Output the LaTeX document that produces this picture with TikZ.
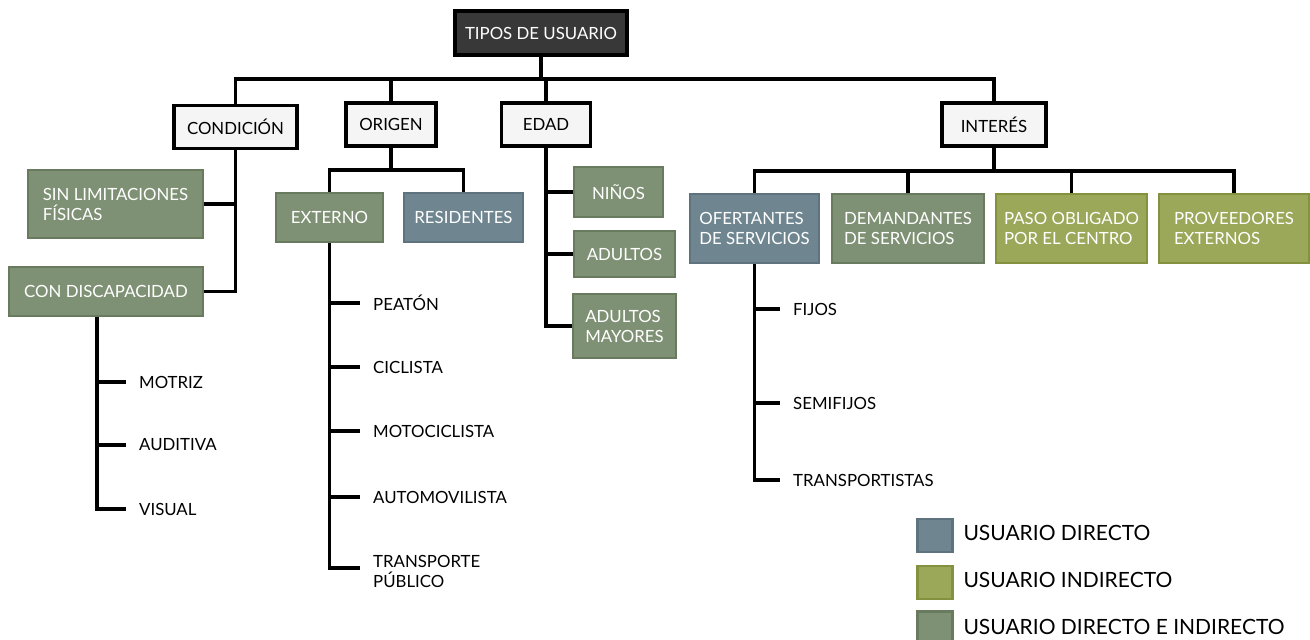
\documentclass[tikz,border=0pt]{standalone}
\usepackage{fontspec}
\setmainfont{Lato}
\definecolor{directo}{HTML}{6F8691}
\definecolor{directoB}{HTML}{5E737D}
\definecolor{indirecto}{HTML}{9BA85A}
\definecolor{indirectoB}{HTML}{84923F}
\definecolor{mixto}{HTML}{7F9174}
\definecolor{mixtoB}{HTML}{697B5F}
\begin{document}
\begin{tikzpicture}[
    x=1pt, y=-1pt,
    font=\fontsize{16.8}{20}\selectfont,
    link/.style={line width=3.5pt},
    rootbox/.style={draw=black, line width=3.5pt, fill=black!78, text=white,
                    minimum width=172pt, minimum height=44pt},
    cat/.style={draw=black, line width=3.5pt, fill=black!4,
                minimum height=43pt},
    grp/.style={line width=2.5pt, text=white, align=left, inner sep=0pt},
    dir/.style={grp, fill=directo, draw=directoB},
    ind/.style={grp, fill=indirecto, draw=indirectoB},
    mix/.style={grp, fill=mixto, draw=mixtoB},
    leaf/.style={anchor=west, inner xsep=13pt, align=left},
    keybox/.style={draw=#1B, fill=#1, line width=2.5pt,
                   minimum width=35pt, minimum height=33pt},
    keytext/.style={anchor=west, font=\fontsize{21}{25}\selectfont}
  ]
  \useasboundingbox (0,0) rectangle (1310,640);

  % top of the tree
  \node[rootbox] (root) at (541,33) {TIPOS DE USUARIO};
  \node[cat, minimum width=123pt] (cond) at (235.5,127) {CONDICIÓN};
  \node[cat, minimum width=90pt]  (orig) at (391,124.5) {ORIGEN};
  \node[cat, minimum width=89pt]  (edad) at (546,124.5) {EDAD};
  \node[cat, minimum width=104pt] (inte) at (994,124.5) {INTERÉS};

  \coordinate (bus) at (0,79);
  \draw[link] (root.south) -- (root.south |- bus);
  \draw[link] (cond.north) -- (cond.north |- bus) -- (inte.north |- bus) -- (inte.north);
  \draw[link] (orig.north) -- (orig.north |- bus);
  \draw[link] (edad.north) -- (edad.north |- bus);

  % condicion
  \node[mix, minimum width=175pt, minimum height=68pt] (sin) at (115.5,204)
    {SIN LIMITACIONES\\FÍSICAS};
  \node[mix, minimum width=194pt, minimum height=49pt] (con) at (106,291.5)
    {CON DISCAPACIDAD};
  \draw[link] (cond.south) |- (sin.east);
  \draw[link] (cond.south) |- (con.east);

  \coordinate (conStem) at (97,317);
  \node[leaf] (motriz) at (126,382) {MOTRIZ};
  \node[leaf] (audit)  at (126,445) {AUDITIVA};
  \node[leaf] (visual) at (126,509) {VISUAL};
  \foreach \n in {motriz,audit,visual}
    \draw[link] (conStem) |- (\n.west);

  % origen
  \node[mix, minimum width=107pt, minimum height=49pt] (ext) at (329.5,217.5) {EXTERNO};
  \node[dir, minimum width=119pt, minimum height=49pt] (res) at (463.5,217.5) {RESIDENTES};
  \coordinate (origBus) at (391,170);
  \draw[link] (orig.south) -- (origBus);
  \draw[link] (ext.north) |- (origBus) -| (res.north);

  \node[leaf] (peaton) at (360,303) {PEATÓN};
  \node[leaf] (cicl)   at (360,367) {CICLISTA};
  \node[leaf] (moto)   at (360,431) {MOTOCICLISTA};
  \node[leaf] (auto)   at (360,497) {AUTOMOVILISTA};
  \node[leaf] (trans)  at (360,571) {TRANSPORTE\\PÚBLICO};
  \foreach \n in {peaton,cicl,moto,auto}
    \draw[link] (ext.south) |- (\n.west);
  \draw[link] (ext.south) |- ([yshift=3pt]trans.west);

  % edad
  \node[mix, minimum width=89pt,  minimum height=50pt] (ninos) at (618.5,192) {NIÑOS};
  \node[mix, minimum width=101pt, minimum height=46pt] (adul)  at (624.5,254) {ADULTOS};
  \node[mix, minimum width=103pt, minimum height=64pt] (mayo)  at (624.5,326)
    {ADULTOS\\MAYORES};
  \foreach \n in {ninos,adul,mayo}
    \draw[link] (edad.south) |- (\n.west);

  % interes
  \node[dir, minimum width=129pt, minimum height=69pt] (ofer) at (754.5,228.5)
    {OFERTANTES\\DE SERVICIOS};
  \node[mix, minimum width=152pt, minimum height=69pt] (dema) at (908,228.5)
    {DEMANDANTES\\DE SERVICIOS};
  \node[ind, minimum width=151pt, minimum height=69pt] (paso) at (1071.5,228.5)
    {PASO OBLIGADO\\POR EL CENTRO};
  \node[ind, minimum width=150pt, minimum height=69pt] (prov) at (1234,228.5)
    {PROVEEDORES\\EXTERNOS};
  \coordinate (inteBus) at (0,171);
  \draw[link] (inte.south) -- (inte.south |- inteBus);
  \draw[link] (ofer.north) -- (ofer.north |- inteBus) -- (prov.north |- inteBus) -- (prov.north);
  \draw[link] (dema.north) -- (dema.north |- inteBus);
  \draw[link] (paso.north) -- (paso.north |- inteBus);

  \node[leaf] (fijos)  at (780,309) {FIJOS};
  \node[leaf] (semi)   at (780,403) {SEMIFIJOS};
  \node[leaf] (transp) at (780,480) {TRANSPORTISTAS};
  \foreach \n in {fijos,semi,transp}
    \draw[link] (ofer.south) |- (\n.west);

  % legend
  \node[keybox=directo]   (kDir) at (935,535.5) {};
  \node[keybox=indirecto] (kInd) at (935,582.5) {};
  \node[keybox=mixto]     (kMix) at (935,628) {};
  \node[keytext] (tDir) at (960,533) {USUARIO DIRECTO};
  \node[keytext] (tInd) at (960,580) {USUARIO INDIRECTO};
  \node[keytext] (tMix) at (960,627) {USUARIO DIRECTO E INDIRECTO};

\end{tikzpicture}
\end{document}
